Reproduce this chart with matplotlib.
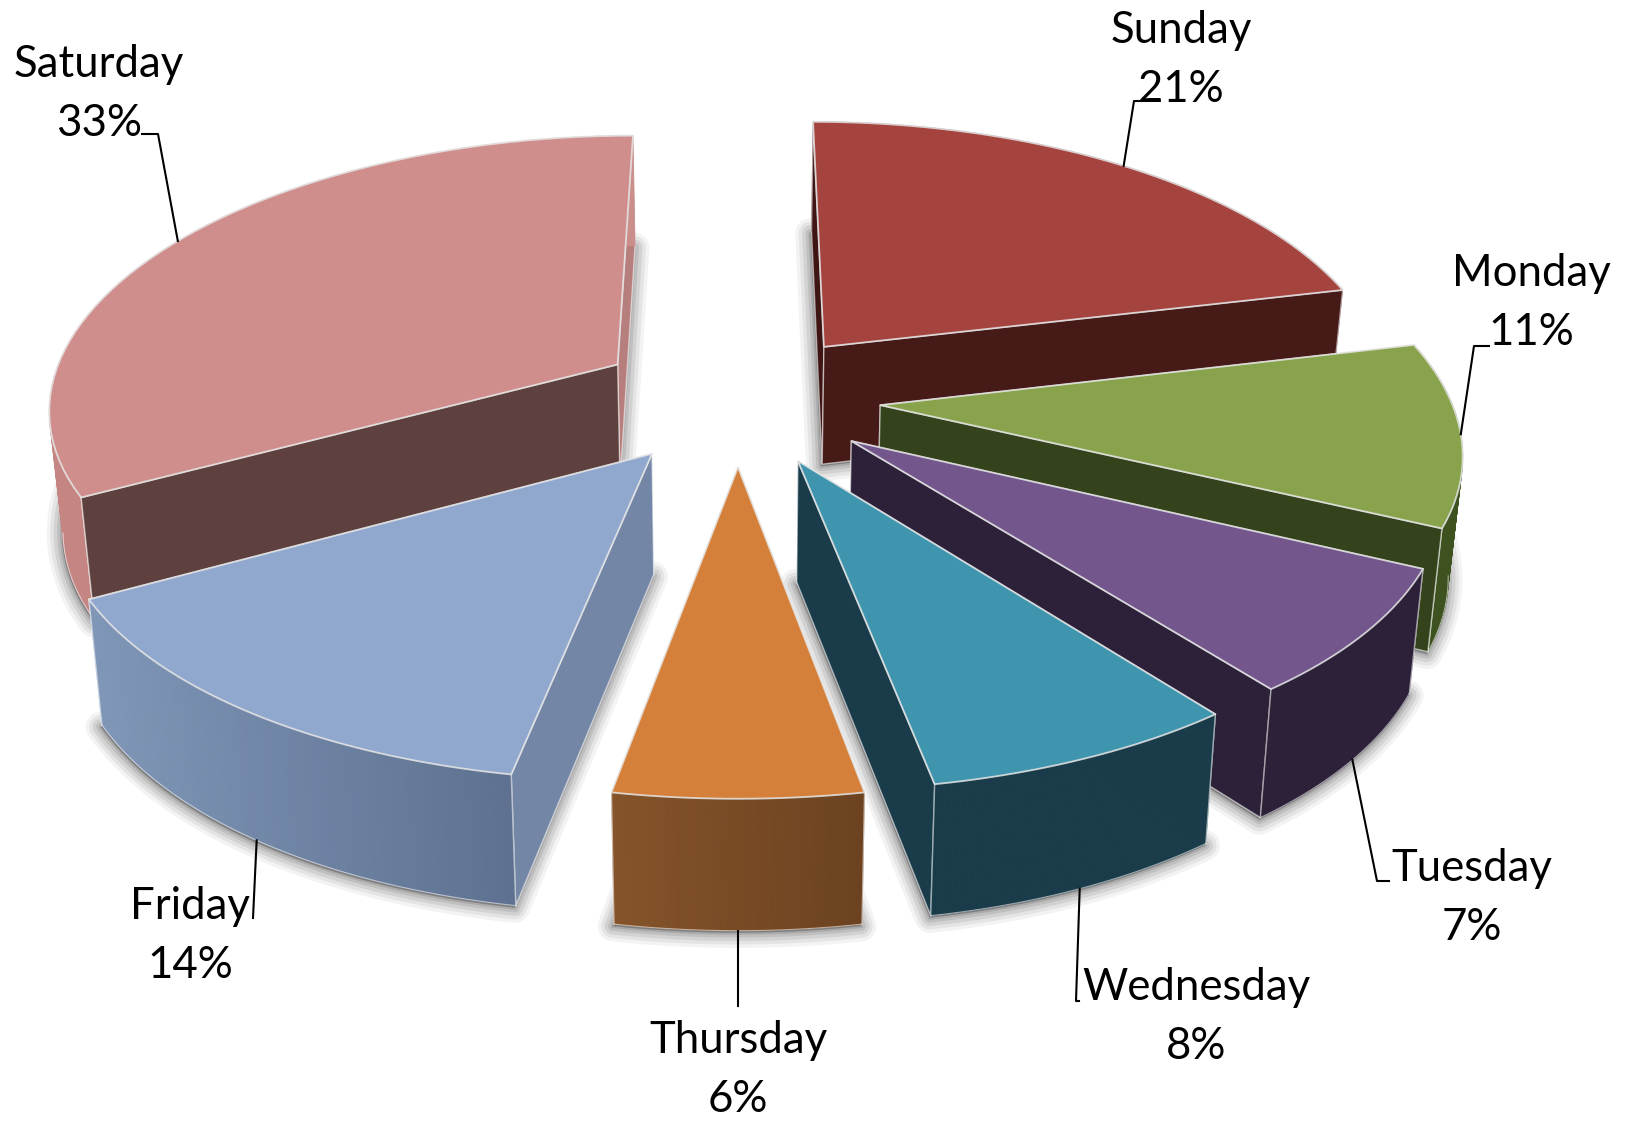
import numpy as np
import matplotlib
matplotlib.use('Agg')
import matplotlib.pyplot as plt
from matplotlib.patches import Polygon

plt.rcParams['font.family'] = ['Lato', 'DejaVu Sans']

days = ['Sunday', 'Monday', 'Tuesday', 'Wednesday', 'Thursday', 'Friday', 'Saturday']
shares = [21.3, 10.8, 7.49, 7.51, 5.8, 14.1, 33.0]
pct_labels = ['21%', '11%', '7%', '8%', '6%', '14%', '33%']

top_colors = ['#A5433F', '#88A34C', '#72568C', '#3F95AE', '#D5803A', '#90A8CE', '#CF8E8C']
start_colors = ['#3E1513', '#35431C', '#2C2138', '#1A3C4A', '#7A4A22', '#7386A5', '#5E403E']
end_colors = ['#451A17', '#35431C', '#2C2138', '#1A3C4A', '#7A4A22', '#7386A5', '#B67F7D']
arc_a = ['#451A17', '#3E5220', '#2C2138', '#1A3C4A', '#6C4220', '#5E7190', '#CB8F8B']
arc_b = ['#451A17', '#3E5220', '#2C2138', '#1A3C4A', '#85542A', '#8097B8', '#C58683']

# label centre (name line) and elbow of the leader, in pixels
label_xy = [(1181, 30), (1531, 273), (1472, 868), (1196, 987), (738, 1040), (190, 906), (99, 64)]
elbow_xy = [(1134, 101), (1474, 346), (1377, 881), (1076, 1001), (738, 1006), (253, 918), (158, 134)]
leader_start = [(1139, 101), (1489, 346), (1389, 881), (1079, 1001), (738, 1006), (253, 918), (142, 134)]

CX, V0, SX, SY, PERSP, PERSP_V, HEIGHT, EXPLODE = 738, 398, 570, 267.5, 0.149, 0.1325, 119, 0.25


def project(x, y, bottom=False):
    y = np.asarray(y)
    w = 1 + PERSP * y
    u = CX + SX * np.asarray(x) / w
    v = V0 - SY * y / (1 + PERSP_V * y)
    if bottom:
        u = CX + (u - CX) * 0.98
        v = v + HEIGHT / np.sqrt(w)
    return np.column_stack([u, v])


def mix(c1, c2, t):
    a = np.array(matplotlib.colors.to_rgb(c1))
    b = np.array(matplotlib.colors.to_rgb(c2))
    return a + (b - a) * t


fig = plt.figure(figsize=(16.3, 11.21), dpi=100)
ax = fig.add_axes([0, 0, 1, 1])
ax.set_xlim(0, 1630)
ax.set_ylim(1121, 0)
ax.axis('off')

edges = np.cumsum([0] + shares) / sum(shares) * 2 * np.pi
slices = []
for i in range(len(days)):
    a0, a1 = edges[i], edges[i + 1]
    mid = (a0 + a1) / 2
    ox, oy = EXPLODE * np.sin(mid), EXPLODE * np.cos(mid)
    t = np.linspace(a0, a1, 60)
    slices.append((i, a0, a1, mid, ox, oy, t, ox + np.sin(t), oy + np.cos(t)))

# shadows first, under everything
for i, a0, a1, mid, ox, oy, t, xs, ys in slices:
    pts = project(np.r_[ox, xs], np.r_[oy, ys], bottom=True) + [-1, 2]
    for lw, al in [(22, 0.07), (17, 0.09), (12, 0.12), (7, 0.15), (3, 0.2)]:
        ax.add_patch(Polygon(pts, closed=True, fc='#555555', ec='#555555', lw=lw,
                             alpha=al, joinstyle='round', zorder=1))

EDGE = (1, 1, 1, 0.55)
order = [0, 6, 1, 2, 3, 5, 4]
for n, k in enumerate(order):
    i, a0, a1, mid, ox, oy, t, xs, ys = slices[k]
    z = 2 + n
    faces = []
    for xe, ye, col in [(xs[0], ys[0], start_colors[i]), (xs[-1], ys[-1], end_colors[i])]:
        fx = np.array([ox, xe])
        fy = np.array([oy, ye])
        top = project(fx, fy)
        bot = project(fx, fy, bottom=True)
        faces.append((np.mean(fy), np.vstack([top, bot[::-1]]), col))
    faces.append((np.mean(ys), None, None))  # arc wall
    faces.sort(key=lambda f: -f[0])
    top_arc = project(xs, ys)
    bot_arc = project(xs, ys, bottom=True)
    for _, poly, col in faces:
        if poly is None:
            lo, hi = top_arc[:, 0].min(), top_arc[:, 0].max()
            # far segments first so nearer ones cover them
            for j in np.argsort(-ys[:-1]):
                q = np.vstack([top_arc[j], top_arc[j + 1], bot_arc[j + 1], bot_arc[j]])
                tt = (top_arc[j, 0] - lo) / (hi - lo)
                c = mix(arc_b[i], arc_a[i], tt)
                ax.add_patch(Polygon(q, closed=True, fc=c, ec=c, lw=0.6, zorder=z))
            front = np.cos(t) < -0.17
            ax.plot(bot_arc[front, 0], bot_arc[front, 1], color=EDGE, lw=0.8, zorder=z)
            for j in (0, -1):
                if np.cos(t[j]) < 0:
                    ax.plot([top_arc[j, 0], bot_arc[j, 0]], [top_arc[j, 1], bot_arc[j, 1]],
                            color=EDGE, lw=1.0, zorder=z)
        else:
            ax.add_patch(Polygon(poly, closed=True, fc=col, ec=EDGE, lw=1.0, zorder=z))
    face = project(np.r_[ox, xs], np.r_[oy, ys])
    ax.add_patch(Polygon(face, closed=True, fc=top_colors[i], ec=(0.9, 0.9, 0.9, 0.85),
                         lw=1.3, joinstyle='round', zorder=z))

# leaders and labels
anchor_bottom = [False, False, True, True, True, True, False]
for i, a0, a1, mid, ox, oy, t, xs, ys in slices:
    p = project(ox + np.sin(mid), oy + np.cos(mid), bottom=anchor_bottom[i])[0]
    ax.plot([leader_start[i][0], elbow_xy[i][0], p[0]],
            [leader_start[i][1], elbow_xy[i][1], p[1]], color='black', lw=1.5, zorder=20)
    ax.text(label_xy[i][0], label_xy[i][1] + 13, days[i], fontsize=31.5, ha='center', va='baseline', zorder=21)
    ax.text(label_xy[i][0], label_xy[i][1] + 72, pct_labels[i], fontsize=31.5, ha='center', va='baseline', zorder=21)

fig.savefig('out.png', dpi=100, facecolor='white')
